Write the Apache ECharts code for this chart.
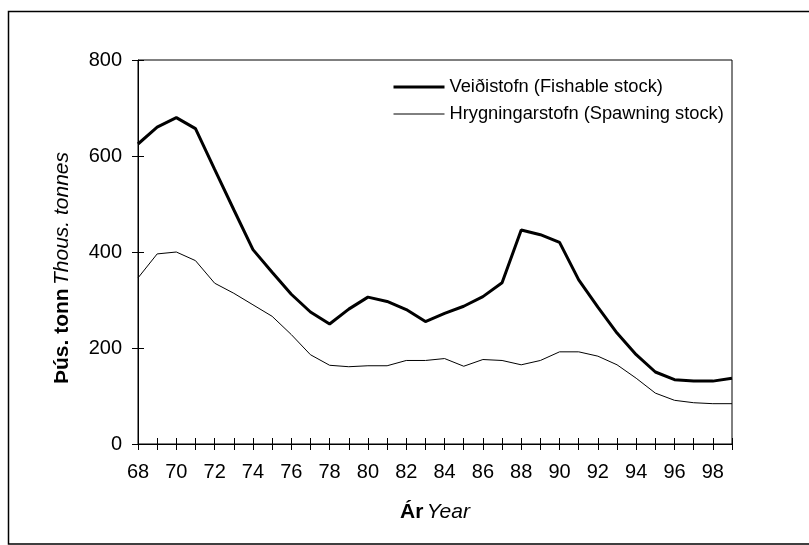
<!DOCTYPE html>
<html>
<head>
<meta charset="utf-8">
<script src="https://cdn.jsdelivr.net/npm/echarts@6/dist/echarts.min.js"></script>
<style>
  html, body { margin: 0; padding: 0; background: #fff; }
  #chart { width: 809px; height: 545px; }
</style>
</head>
<body>
<div id="chart"></div>
<script>
// stofnstærð
var years = ['68', '69', '70', '71', '72', '73', '74', '75', '76', '77', '78', '79', '80', '81', '82', '83',
  '84', '85', '86', '87', '88', '89', '90', '91', '92', '93', '94', '95', '96', '97', '98', '99']
var fishable = [625, 660, 680, 657, 572, 488, 405, 358, 312, 275, 250, 281, 306, 297, 280, 255,
  272, 287, 307, 336, 446, 436, 420, 342, 285, 231, 186, 150, 134, 131, 131, 137]
var spawning = [346, 396, 400, 382, 335, 314, 290, 266, 228, 186, 164, 161, 163, 163, 174, 174,
  178, 162, 176, 174, 165, 174, 192, 192, 183, 165, 137, 106, 91, 86, 84, 84]
var yTicks = [0, 200, 400, 600, 800]

var font = 'Liberation Sans, Arial, sans-serif'
var chart = echarts.init(document.getElementById('chart'))

option = {
  animation: false,
  textStyle: { fontFamily: font, color: '#000' },
  graphic: [
    {
      type: 'polyline',
      shape: { points: [[1000, 11.5], [8.5, 11.5], [8.5, 544], [1000, 544]] },
      style: { stroke: '#000', lineWidth: 1.5, fill: null },
    },
  ],
  legend: {
    orient: 'vertical',
    left: 392,
    top: 78,
    padding: 0,
    itemWidth: 51,
    itemHeight: 14,
    itemGap: 9,
    itemStyle: { opacity: 0 },
    textStyle: { fontSize: 18.3, fontFamily: font, color: '#000', lineHeight: 18 },
    data: [
      { name: 'Veiðistofn (Fishable stock)', lineStyle: { width: 3, color: '#000' } },
      { name: 'Hrygningarstofn (Spawning stock)', lineStyle: { width: 1, color: '#000' } },
    ],
  },
  grid: {
    left: 138,
    right: 77,
    top: 60,
    bottom: 101,
    show: true,
    borderColor: '#000',
    borderWidth: 1,
  },
  xAxis: [
    {
      type: 'category',
      position: 'bottom',
      data: years,
      boundaryGap: false,
      name: '{b|Ár} {i|Year}',
      nameLocation: 'middle',
      nameGap: 58,
      nameTextStyle: {
        rich: {
          b: { fontSize: 21, fontWeight: 'bold', fontFamily: font, color: '#000' },
          i: { fontSize: 21, fontStyle: 'italic', fontFamily: font, color: '#000' },
        },
      },
      axisLine: { lineStyle: { color: '#000', width: 1 } },
      axisTick: { interval: 0, length: 6, lineStyle: { color: '#000' } },
      axisLabel: { interval: 1, margin: 18, fontSize: 20, color: '#000', fontFamily: font },
      splitLine: { show: false },
    },
    {
      type: 'category',
      position: 'bottom',
      data: years,
      boundaryGap: false,
      axisLine: { show: false },
      axisTick: { interval: 0, inside: true, length: 6, lineStyle: { color: '#000' } },
      axisLabel: { show: false },
      splitLine: { show: false },
    },
  ],
  yAxis: [
    {
      type: 'value',
      min: yTicks[0],
      max: yTicks[yTicks.length - 1],
      interval: 200,
      name: '{b|Þús. tonn} {i|Thous. tonnes}',
      nameLocation: 'middle',
      nameGap: 65,
      nameTextStyle: {
        padding: [0, 32, 0, 0],
        rich: {
          b: { fontSize: 21, fontWeight: 'bold', fontFamily: font, color: '#000' },
          i: { fontSize: 21, fontStyle: 'italic', fontFamily: font, color: '#000' },
        },
      },
      axisLine: { show: true, lineStyle: { color: '#000', width: 1 } },
      axisTick: { show: true, length: 6, lineStyle: { color: '#000' } },
      axisLabel: { margin: 16, fontSize: 20, color: '#000', fontFamily: font },
      splitLine: { show: false },
    },
    {
      type: 'value',
      position: 'left',
      min: yTicks[0],
      max: yTicks[yTicks.length - 1],
      interval: 200,
      axisLine: { show: false },
      axisTick: { show: true, inside: true, length: 6, lineStyle: { color: '#000' } },
      axisLabel: { show: false },
      splitLine: { show: false },
    },
  ],
  series: [
    {
      name: 'Veiðistofn (Fishable stock)',
      type: 'line',
      data: fishable,
      symbol: 'none',
      lineStyle: { width: 3, color: '#000' },
      itemStyle: { color: '#000' },
    },
    {
      name: 'Hrygningarstofn (Spawning stock)',
      type: 'line',
      data: spawning,
      symbol: 'none',
      lineStyle: { width: 1, color: '#000' },
      itemStyle: { color: '#000' },
    },
  ],
}
chart.setOption(option)
</script>
</body>
</html>
